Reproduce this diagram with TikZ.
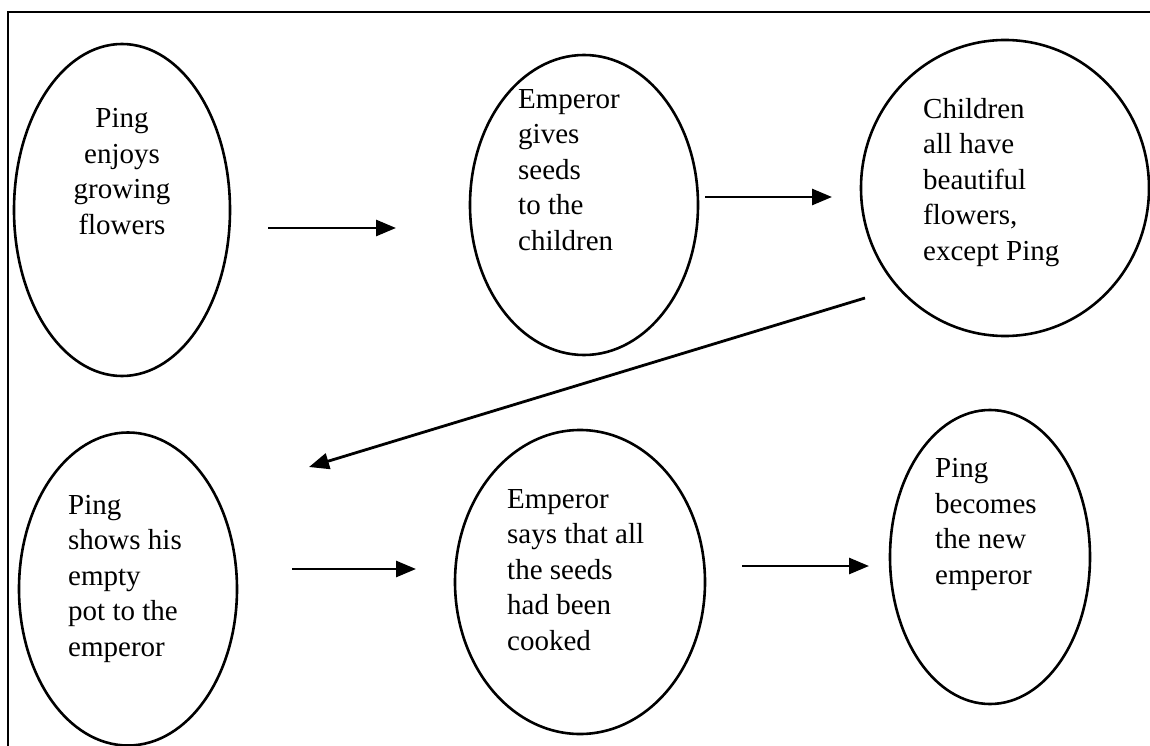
\documentclass[tikz,border=0pt]{standalone}
\usepackage{fontspec}
\setmainfont{Liberation Serif}
\usetikzlibrary{shapes.geometric,arrows.meta}
\tikzset{
  bubble/.style={draw, ellipse, line width=2.6pt, inner sep=0pt},
  words/.style={anchor=base west, align=left, inner sep=0pt, font=\fontsize{29}{35.5}\selectfont},
  flow/.style={line width=2.8pt, -{Triangle[length=20pt,width=16pt]}},
  frameline/.style={line width=2pt}
}
\begin{document}
\begin{tikzpicture}[x=1pt,y=-1pt]
\useasboundingbox (0,0) rectangle (1150,746);
% frame (top and left edges visible)
\coordinate (ftl) at (8,12);
\coordinate (ftr) at (1150,12);
\coordinate (fbl) at (8,746);
\draw[frameline] (fbl) -- (ftl) -- (ftr);
% ellipses
\node[bubble, minimum width=216pt, minimum height=332pt] (e1) at (122,210) {};
\node[bubble, minimum width=228pt, minimum height=300pt] (e2) at (584,205) {};
\node[bubble, minimum width=288pt, minimum height=296pt] (e3) at (1005,188) {};
\node[bubble, minimum width=218pt, minimum height=313pt] (e4) at (128,589) {};
\node[bubble, minimum width=250pt, minimum height=304pt] (e5) at (580,582) {};
\node[bubble, minimum width=200pt, minimum height=294pt] (e6) at (990,557) {};
% texts (anchored at the baseline of their last line)
\node[words, anchor=base, align=center] (t1) at (122,234) {Ping\\enjoys\\growing\\flowers};
\node[words] (t2) at (518,250) {Emperor\\gives\\seeds\\to the\\children};
\node[words] (t3) at (923,260) {Children\\all have\\beautiful\\flowers,\\except Ping};
\node[words] (t4) at (68,656) {Ping\\shows his\\empty\\pot to the\\emperor};
\node[words] (t5) at (507,650) {Emperor\\says that all\\the seeds\\had been\\cooked};
\node[words] (t6) at (935,584) {Ping\\becomes\\the new\\emperor};
% arrows
\coordinate (a1s) at (268,228); \coordinate (a1e) at (396,228);
\coordinate (a2s) at (705,197); \coordinate (a2e) at (832,197);
\coordinate (a3s) at (865,298); \coordinate (a3e) at (309,467);
\coordinate (a4s) at (292,569); \coordinate (a4e) at (416,569);
\coordinate (a5s) at (742,566); \coordinate (a5e) at (869,566);
\draw[flow] (a1s) -- (a1e);
\draw[flow] (a2s) -- (a2e);
\draw[flow] (a3s) -- (a3e);
\draw[flow] (a4s) -- (a4e);
\draw[flow] (a5s) -- (a5e);
\end{tikzpicture}
\end{document}
